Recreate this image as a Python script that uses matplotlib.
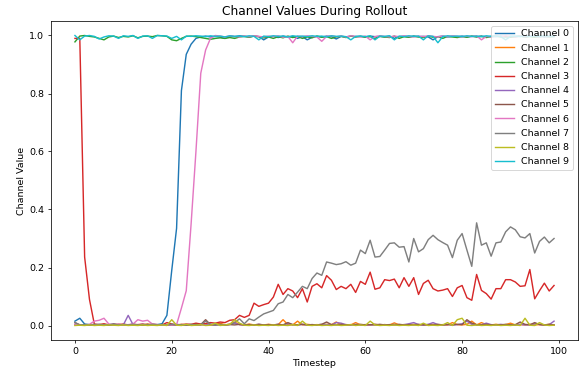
import matplotlib
matplotlib.use('Agg')
import matplotlib.pyplot as plt
import numpy as np

# Timesteps 0..99, one list per channel
timesteps = list(range(100))

channel_0 = [0.015, 0.025, 0.005, 0.003, 0.002, 0.004, 0.002, 0.003, 0.005, 0.002,
             0.003, 0.002, 0.004, 0.002, 0.003, 0.002, 0.004, 0.003, 0.006, 0.035,
             0.19, 0.335, 0.81, 0.935, 0.97, 0.99, 0.995, 0.998, 0.995, 0.997,
             0.995, 0.99, 0.998, 0.996, 0.999, 0.997, 0.995, 0.998, 0.996, 0.985,
             0.995, 0.997, 0.993, 0.998, 0.995, 0.997, 0.99, 0.996, 0.985, 0.994,
             0.997, 0.995, 0.998, 0.996, 0.988, 0.997, 0.995, 0.998, 0.996, 0.997,
             0.995, 0.998, 0.996, 0.997, 0.995, 0.998, 0.99, 0.996, 0.997, 0.995,
             0.998, 0.996, 0.997, 0.995, 0.985, 0.996, 0.998, 0.995, 0.997, 0.996,
             0.998, 0.995, 0.997, 0.996, 0.998, 0.995, 0.997, 0.996, 0.998, 0.995,
             0.997, 0.996, 0.998, 0.995, 0.997, 0.996, 0.998, 0.995, 0.997, 0.996]

channel_1 = [0.002, 0.001, 0.003, 0.002, 0.001, 0.002, 0.003, 0.001, 0.002, 0.004,
             0.002, 0.001, 0.003, 0.002, 0.001, 0.005, 0.002, 0.001, 0.002, 0.003,
             0.001, 0.002, 0.004, 0.002, 0.001, 0.003, 0.002, 0.006, 0.002, 0.003,
             0.008, 0.002, 0.004, 0.012, 0.003, 0.002, 0.005, 0.002, 0.003, 0.002,
             0.004, 0.002, 0.003, 0.02, 0.003, 0.002, 0.015, 0.002, 0.004, 0.002,
             0.003, 0.002, 0.004, 0.003, 0.012, 0.002, 0.003, 0.002, 0.01, 0.002,
             0.003, 0.002, 0.004, 0.002, 0.003, 0.002, 0.009, 0.002, 0.003, 0.002,
             0.004, 0.002, 0.003, 0.002, 0.004, 0.002, 0.003, 0.002, 0.01, 0.003,
             0.002, 0.004, 0.015, 0.002, 0.01, 0.003, 0.002, 0.004, 0.002, 0.003,
             0.008, 0.002, 0.003, 0.002, 0.004, 0.002, 0.003, 0.002, 0.004, 0.002]

channel_2 = [0.978, 0.998, 1.0, 0.997, 0.995, 0.99, 0.985, 0.995, 0.998, 0.993,
             0.997, 0.995, 0.999, 0.992, 0.997, 0.998, 0.996, 1.0, 0.999, 0.997,
             0.985, 0.982, 0.99, 0.997, 0.998, 0.996, 0.993, 0.99, 0.987, 0.99,
             0.992, 0.99, 0.993, 0.99, 0.995, 0.997, 0.994, 0.998, 0.996, 0.992,
             0.995, 0.99, 0.996, 0.992, 0.998, 0.993, 0.997, 0.99, 0.995, 0.992,
             0.998, 0.994, 0.996, 0.99, 0.995, 0.997, 0.993, 0.998, 0.995, 0.997,
             0.994, 0.996, 0.99, 0.997, 0.995, 0.993, 0.998, 0.99, 0.996, 0.994,
             0.997, 0.995, 0.993, 0.998, 0.994, 0.996, 0.99, 0.997, 0.995, 0.993,
             0.996, 0.994, 0.998, 0.995, 0.997, 0.993, 0.996, 0.998, 0.995, 0.997,
             0.994, 0.996, 0.998, 0.995, 0.997, 0.994, 0.996, 0.998, 0.995, 0.997]

channel_3 = [0.99, 0.99, 0.236, 0.09, 0.005, 0.003, 0.006, 0.002, 0.004, 0.003,
             0.005, 0.002, 0.004, 0.003, 0.005, 0.002, 0.004, 0.003, 0.002, 0.01,
             0.005, 0.002, 0.003, 0.005, 0.004, 0.008, 0.005, 0.007, 0.01, 0.008,
             0.012, 0.01, 0.018, 0.02, 0.035, 0.028, 0.035, 0.077, 0.066, 0.072,
             0.077, 0.098, 0.142, 0.107, 0.127, 0.119, 0.096, 0.127, 0.081, 0.135,
             0.144, 0.13, 0.172, 0.156, 0.124, 0.135, 0.127, 0.142, 0.114, 0.152,
             0.142, 0.184, 0.125, 0.13, 0.158, 0.155, 0.16, 0.13, 0.165, 0.135,
             0.165, 0.107, 0.145, 0.156, 0.127, 0.119, 0.122, 0.127, 0.1, 0.13,
             0.138, 0.096, 0.087, 0.176, 0.121, 0.11, 0.091, 0.127, 0.127, 0.158,
             0.158, 0.15, 0.135, 0.137, 0.193, 0.092, 0.12, 0.146, 0.119, 0.138]

channel_4 = [0.003, 0.002, 0.001, 0.002, 0.003, 0.001, 0.002, 0.003, 0.002, 0.004,
             0.002, 0.035, 0.003, 0.002, 0.004, 0.002, 0.003, 0.001, 0.002, 0.003,
             0.002, 0.004, 0.002, 0.003, 0.001, 0.002, 0.003, 0.002, 0.004, 0.002,
             0.003, 0.002, 0.004, 0.008, 0.003, 0.002, 0.003, 0.002, 0.004, 0.002,
             0.003, 0.002, 0.004, 0.002, 0.006, 0.003, 0.002, 0.004, 0.002, 0.003,
             0.002, 0.004, 0.003, 0.002, 0.01, 0.008, 0.003, 0.002, 0.004, 0.002,
             0.003, 0.002, 0.004, 0.002, 0.003, 0.002, 0.004, 0.002, 0.003, 0.006,
             0.01, 0.003, 0.002, 0.004, 0.01, 0.003, 0.002, 0.004, 0.002, 0.003,
             0.006, 0.015, 0.004, 0.002, 0.003, 0.008, 0.003, 0.002, 0.004, 0.002,
             0.003, 0.002, 0.004, 0.002, 0.003, 0.006, 0.004, 0.002, 0.003, 0.015]

channel_5 = [0.01, 0.002, 0.003, 0.002, 0.001, 0.003, 0.002, 0.001, 0.004, 0.002,
             0.003, 0.002, 0.001, 0.003, 0.002, 0.004, 0.002, 0.001, 0.003, 0.002,
             0.004, 0.002, 0.003, 0.001, 0.002, 0.004, 0.003, 0.02, 0.003, 0.002,
             0.004, 0.002, 0.003, 0.002, 0.004, 0.002, 0.003, 0.002, 0.004, 0.002,
             0.003, 0.002, 0.004, 0.002, 0.01, 0.003, 0.002, 0.004, 0.002, 0.003,
             0.002, 0.004, 0.012, 0.003, 0.002, 0.004, 0.002, 0.003, 0.002, 0.004,
             0.002, 0.003, 0.002, 0.004, 0.002, 0.003, 0.002, 0.004, 0.002, 0.003,
             0.002, 0.004, 0.002, 0.003, 0.002, 0.004, 0.002, 0.003, 0.002, 0.004,
             0.003, 0.02, 0.008, 0.003, 0.002, 0.004, 0.002, 0.003, 0.002, 0.004,
             0.002, 0.003, 0.012, 0.004, 0.002, 0.01, 0.003, 0.002, 0.004, 0.002]

channel_6 = [0.005, 0.003, 0.002, 0.004, 0.015, 0.018, 0.025, 0.005, 0.003, 0.004,
             0.002, 0.003, 0.005, 0.02, 0.015, 0.018, 0.005, 0.003, 0.002, 0.003,
             0.002, 0.003, 0.06, 0.12, 0.35, 0.6, 0.87, 0.95, 0.99, 1.0,
             0.998, 0.995, 0.999, 0.997, 0.995, 0.998, 0.996, 0.999, 0.997, 0.995,
             0.998, 0.996, 0.999, 0.994, 0.997, 0.975, 0.998, 0.996, 0.999, 0.997,
             0.995, 0.98, 0.997, 0.999, 0.996, 0.998, 0.995, 0.999, 0.997, 0.995,
             0.998, 0.985, 0.996, 0.999, 0.997, 0.995, 0.998, 0.996, 0.999, 0.997,
             0.995, 0.998, 0.996, 0.999, 0.997, 0.995, 0.998, 0.996, 0.999, 0.997,
             0.995, 0.998, 0.996, 0.999, 0.985, 0.997, 0.995, 0.998, 0.996, 0.999,
             0.997, 0.995, 0.998, 0.996, 0.999, 0.997, 0.995, 0.998, 0.996, 0.999]

channel_7 = [0.01, 0.002, 0.003, 0.002, 0.004, 0.002, 0.003, 0.002, 0.004, 0.002,
             0.003, 0.002, 0.004, 0.002, 0.003, 0.002, 0.004, 0.002, 0.003, 0.002,
             0.004, 0.002, 0.003, 0.002, 0.004, 0.002, 0.003, 0.015, 0.004, 0.002,
             0.003, 0.002, 0.004, 0.01, 0.023, 0.006, 0.023, 0.017, 0.029, 0.04,
             0.046, 0.052, 0.075, 0.081, 0.107, 0.096, 0.115, 0.135, 0.127, 0.162,
             0.181, 0.173, 0.219, 0.215, 0.21, 0.213, 0.22, 0.208, 0.215, 0.26,
             0.248, 0.294, 0.236, 0.238, 0.26, 0.283, 0.285, 0.27, 0.272, 0.219,
             0.30, 0.254, 0.265, 0.296, 0.311, 0.296, 0.286, 0.277, 0.234, 0.294,
             0.317, 0.26, 0.204, 0.354, 0.277, 0.285, 0.239, 0.285, 0.288, 0.323,
             0.34, 0.33, 0.306, 0.302, 0.317, 0.25, 0.29, 0.305, 0.285, 0.3]

channel_8 = [0.0, 0.001, 0.0, 0.002, 0.0, 0.001, 0.0, 0.002, 0.001, 0.0,
             0.002, 0.0, 0.001, 0.0, 0.002, 0.0, 0.001, 0.0, 0.002, 0.0,
             0.02, 0.001, 0.0, 0.004, 0.0, 0.001, 0.003, 0.0, 0.001, 0.008,
             0.0, 0.002, 0.004, 0.02, 0.008, 0.001, 0.0, 0.002, 0.0, 0.001,
             0.0, 0.002, 0.0, 0.001, 0.0, 0.003, 0.0, 0.015, 0.001, 0.0,
             0.002, 0.0, 0.001, 0.0, 0.002, 0.0, 0.001, 0.003, 0.0, 0.002,
             0.0, 0.015, 0.002, 0.0, 0.001, 0.0, 0.002, 0.0, 0.001, 0.0,
             0.002, 0.0, 0.008, 0.0, 0.001, 0.0, 0.002, 0.01, 0.0, 0.02,
             0.025, 0.001, 0.0, 0.002, 0.0, 0.001, 0.0, 0.002, 0.0, 0.001,
             0.0, 0.002, 0.0, 0.025, 0.001, 0.0, 0.01, 0.002, 0.0, 0.001]

channel_9 = [1.0, 0.985, 0.998, 1.0, 0.997, 0.988, 0.995, 0.999, 0.998, 0.99,
             0.999, 0.997, 1.0, 0.99, 0.998, 0.999, 0.99, 1.0, 0.999, 0.998,
             0.99, 0.997, 0.985, 0.998, 0.997, 0.999, 0.998, 0.996, 0.999, 0.997,
             0.998, 0.995, 0.999, 0.997, 0.998, 0.996, 0.999, 0.997, 0.985, 0.998,
             0.996, 0.999, 0.997, 0.998, 0.995, 0.999, 0.997, 0.998, 0.996, 0.999,
             0.997, 0.998, 0.995, 0.999, 0.997, 0.998, 0.996, 0.985, 0.997, 0.998,
             0.996, 0.999, 0.985, 0.998, 0.997, 0.999, 0.985, 0.998, 0.996, 0.999,
             0.997, 0.998, 0.985, 0.999, 0.997, 0.975, 0.996, 0.999, 0.997, 0.998,
             0.996, 0.999, 0.997, 0.998, 0.996, 0.999, 0.997, 0.998, 0.996, 0.985,
             0.997, 0.998, 0.996, 0.999, 0.997, 0.998, 0.996, 0.999, 0.997, 0.998]

channels = [channel_0, channel_1, channel_2, channel_3, channel_4,
            channel_5, channel_6, channel_7, channel_8, channel_9]

# reference looks like a 10x6 figure saved tight and shrunk, so render at a low dpi
dpi = 68
fig = plt.figure(figsize=(586 / dpi, 372 / dpi), dpi=dpi)
ax = fig.add_subplot(111)
fig.subplots_adjust(left=51 / 586, right=578 / 586, top=1 - 21 / 372, bottom=1 - 340 / 372)

for i, values in enumerate(channels):
    ax.plot(timesteps, values, label=f'Channel {i}')

ax.set_xlabel('Timestep')
ax.set_ylabel('Channel Value')
ax.set_title('Channel Values During Rollout', fontsize=13)
ax.legend(loc='upper right', labelspacing=0.55)

fig.savefig('out.png', dpi=dpi)
